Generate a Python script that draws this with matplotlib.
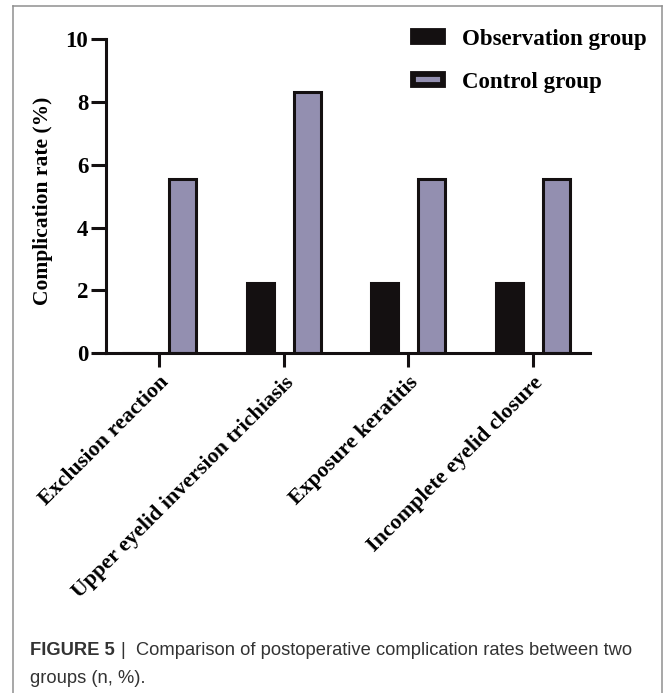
import matplotlib
matplotlib.use('Agg')
import matplotlib.pyplot as plt
from matplotlib.lines import Line2D
import numpy as np

plt.rcParams['font.family'] = ['Liberation Serif', 'DejaVu Serif']
plt.rcParams['font.weight'] = 'bold'

categories = ['Exclusion reaction', 'Upper eyelid inversion trichiasis',
              'Exposure keratitis', 'Incomplete eyelid closure']
observation = [0.0, 2.22, 2.22, 2.22]
control = [5.56, 8.33, 5.56, 5.56]
series_names = ['Observation group', 'Control group']
yticks = [0, 2, 4, 6, 8, 10]

W, H = 664, 693
fig = plt.figure(figsize=(W / 100, H / 100), dpi=100)

# axes box in pixel terms from the reference
left, right, top, bottom = 105.7, 590, 39.3, 353
ax = fig.add_axes([left / W, 1 - bottom / H, (right - left) / W, (bottom - top) / H])

x = np.arange(len(categories))
bw = 0.217
off = 0.188
lw = 2.2
b1 = ax.bar(x - off, observation, bw, color='#141011', edgecolor='#141011', linewidth=lw,
            label=series_names[0])
b2 = ax.bar(x + off, control, bw, color='#938fb0', edgecolor='#141011', linewidth=lw,
            label=series_names[1])

ax.set_xlim(-0.428, 3.458)
ax.set_ylim(0, 10)
ax.set_yticks(yticks)
ax.set_xticks(x)
ax.set_xticklabels(categories, rotation=45, ha='right', va='top', rotation_mode='anchor',
                   fontsize=15.8, fontweight='bold')
ax.tick_params(axis='y', labelsize=16.5, length=10.5, width=lw, pad=2, color='#141011')
ax.tick_params(axis='x', length=10, width=lw, pad=4, color='#141011')
for t in ax.get_yticklabels():
    t.set_fontweight('bold')

for s in ['top', 'right']:
    ax.spines[s].set_visible(False)
for s in ['left', 'bottom']:
    ax.spines[s].set_linewidth(lw)
    ax.spines[s].set_color('#141011')

ax.set_ylabel('Complication rate (%)', fontsize=15.5, fontweight='bold')
ax.yaxis.set_label_coords(-0.109, 0.485)

leg = ax.legend(handles=[b1, b2], loc='upper left',
                bbox_to_anchor=(413 / W, 1 - 29 / H), bbox_transform=fig.transFigure,
                frameon=False, fontsize=16.5, borderpad=0, borderaxespad=0,
                handlelength=1.3, handleheight=0.34, handletextpad=0.85,
                labelspacing=0.95)
for t in leg.get_texts():
    t.set_fontweight('bold')
for h in leg.legend_handles:
    h.set_linewidth(4.2)

# caption
cap_kw = dict(fontsize=13.2, color='#333333', family=['Liberation Sans', 'DejaVu Sans'],
              fontweight='normal', va='baseline')
t1 = fig.text(30 / W, 1 - 655 / H, 'FIGURE 5', **{**cap_kw, 'fontweight': 'bold'})
fig.canvas.draw()
bb = t1.get_window_extent()
fig.text((bb.x1 + 6) / W, 1 - 655 / H,
         '|  Comparison of postoperative complication rates between two', **cap_kw)
fig.text(30 / W, 1 - 683 / H, 'groups (n, %).', **cap_kw)

# outer frame
frame_kw = dict(color='#8f8f8f', linewidth=1.1, transform=fig.transFigure)
fig.add_artist(Line2D([12.7 / W, 12.7 / W], [0, 1 - 6 / H], **frame_kw))
fig.add_artist(Line2D([12.7 / W, 662 / W], [1 - 6 / H, 1 - 6 / H], **frame_kw))
fig.add_artist(Line2D([662 / W, 662 / W], [0, 1 - 6 / H], **frame_kw))

fig.savefig('out.png', dpi=100)
